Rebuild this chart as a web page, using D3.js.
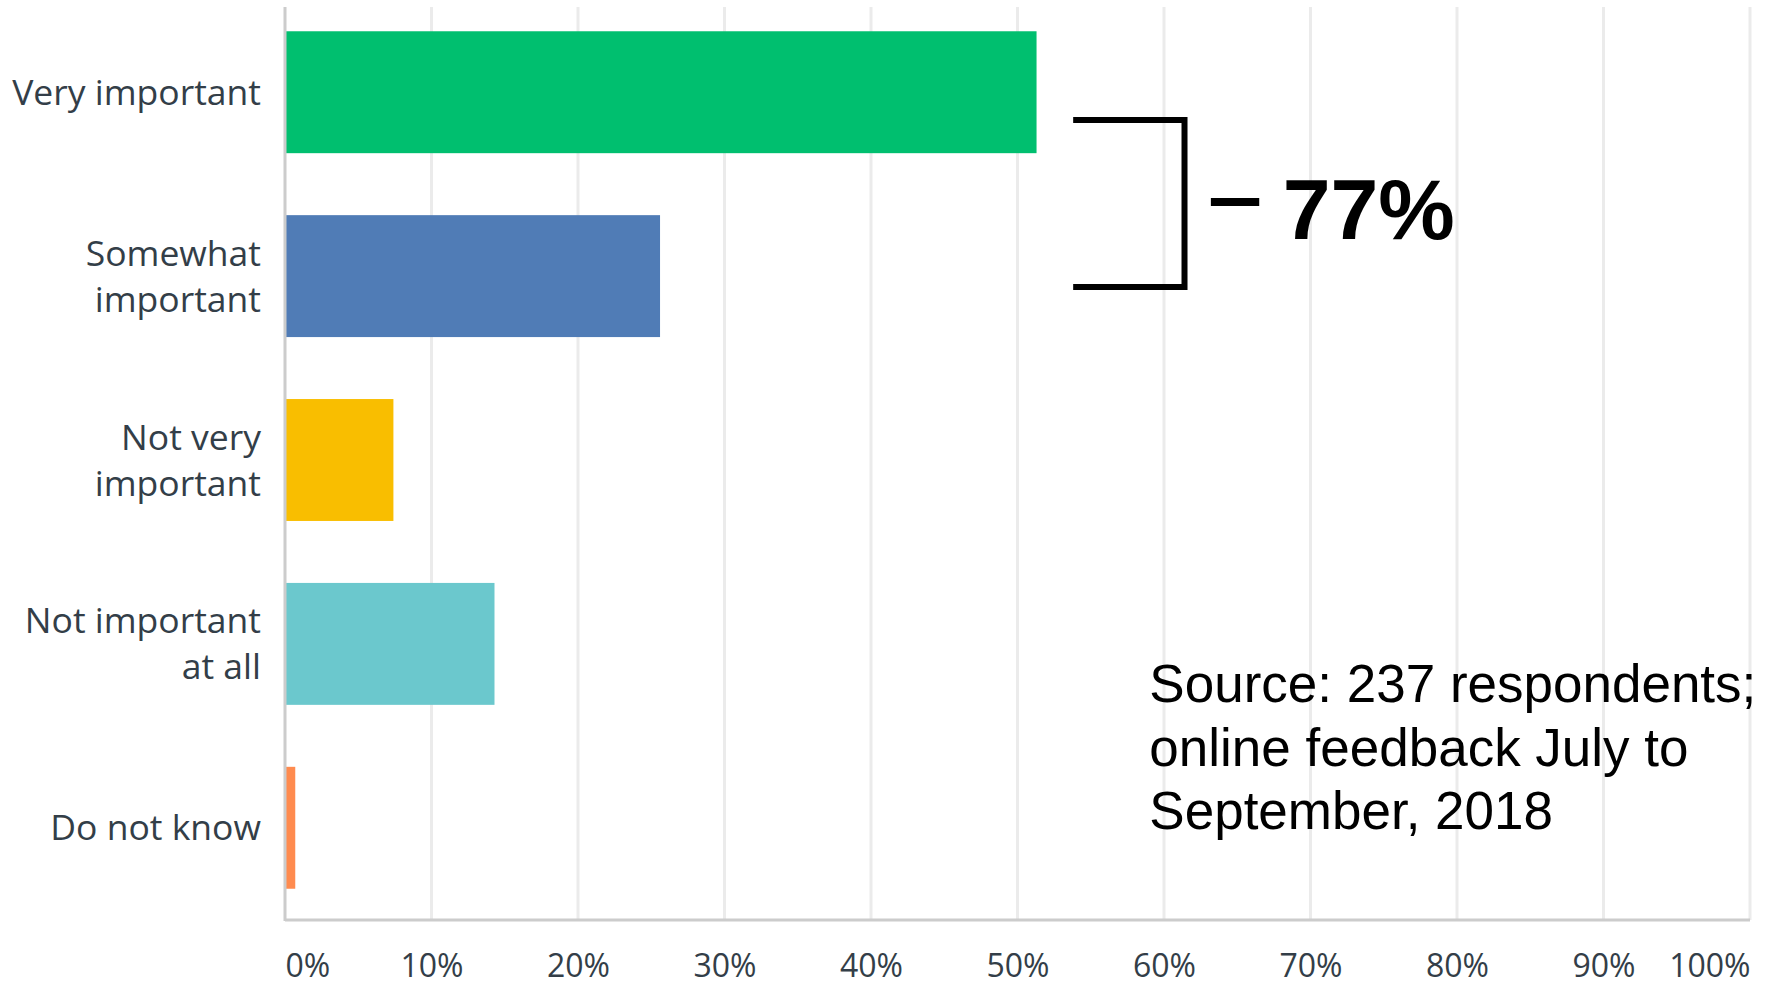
<!DOCTYPE html>
<html lang="en">
    <head>
        <meta charset="UTF-8" />
        <title>Importance</title>
        <style>
            body {
                margin: 0;
                padding: 0;
                background-color: #ffffff;
            }
            svg {
                display: block;
            }
        </style>
    </head>
    <body>
        <div id="chart"></div>
        <script src="https://d3js.org/d3.v7.min.js"></script>
        <script>
            const categories = ['Very important', 'Somewhat important', 'Not very important', 'Not important at all', 'Do not know'];
            const labelLines = [['Very important'], ['Somewhat', 'important'], ['Not very', 'important'], ['Not important', 'at all'], ['Do not know']];
            const values = [51.3, 25.6, 7.4, 14.3, 0.7];
            const barColors = ['#00bf6f', '#507cb6', '#f9be00', '#6bc8cd', '#ff8b4f'];
            const tickValues = [0, 10, 20, 30, 40, 50, 60, 70, 80, 90, 100];
            const bracketLabel = '77%';
            const sourceLines = ['Source: 237 respondents;', 'online feedback July to', 'September, 2018'];

            const width = 1766;
            const height = 988;
            const svg = d3.select('#chart').append('svg').attr('width', width).attr('height', height);

            const x = d3.scaleLinear().domain([0, 100]).range([285, 1750]);
            const y = d3.scaleBand().domain(categories).range([0, 920]).paddingInner(0.337).paddingOuter(0.17);

            // grid
            svg.append('g')
                .selectAll('line')
                .data(tickValues.slice(1))
                .join('line')
                .attr('x1', (d) => x(d))
                .attr('x2', (d) => x(d))
                .attr('y1', 7)
                .attr('y2', 920)
                .attr('stroke', '#ebebeb')
                .attr('stroke-width', 3);

            // bars
            svg.append('g')
                .selectAll('rect')
                .data(values)
                .join('rect')
                .attr('x', x(0))
                .attr('y', (d, i) => y(categories[i]))
                .attr('width', (d) => x(d) - x(0))
                .attr('height', y.bandwidth())
                .attr('fill', (d, i) => barColors[i]);

            // axis lines
            svg.append('line').attr('x1', x(0)).attr('x2', x(0)).attr('y1', 7).attr('y2', 921).attr('stroke', '#cccccc').attr('stroke-width', 3);
            svg.append('line').attr('x1', x(0)).attr('x2', x(100)).attr('y1', 920).attr('y2', 920).attr('stroke', '#cccccc').attr('stroke-width', 3);

            // x ticks
            const xAxis = svg
                .append('g')
                .attr('transform', 'translate(0, 977)')
                .call(d3.axisBottom(x).tickValues(tickValues).tickSize(0).tickPadding(0).tickFormat((d) => d + '%'));
            xAxis.select('.domain').remove();
            xAxis
                .selectAll('text')
                .attr('y', 0)
                .attr('dy', 0)
                .attr('font-family', 'Open Sans')
                .attr('font-size', 32)
                .attr('fill', '#333e48')
                .attr('text-anchor', (d) => (d === 0 ? 'start' : d === 100 ? 'end' : 'middle'));

            // category labels
            const labels = svg
                .append('g')
                .selectAll('text')
                .data(categories)
                .join('text')
                .attr('font-family', 'Open Sans')
                .attr('font-size', 35.5)
                .attr('fill', '#333e48')
                .attr('text-anchor', 'end');
            labels.each(function (d, i) {
                const lines = labelLines[i];
                const mid = y(d) + y.bandwidth() / 2;
                const first = mid + 12.5 - ((lines.length - 1) * 46) / 2;
                d3.select(this)
                    .selectAll('tspan')
                    .data(lines)
                    .join('tspan')
                    .attr('x', 261)
                    .attr('y', (t, k) => first + k * 46)
                    .text((t) => t);
            });

            // bracket annotation
            const bracket = svg.append('g').attr('stroke', '#000000').attr('fill', 'none').attr('stroke-width', 6);
            const bl = x(53.8);
            const br = x(61.4);
            bracket.append('path').attr('d', `M${bl},120 H${br} V287 H${bl}`);
            svg.append('line').attr('x1', x(63.2)).attr('x2', x(66.5)).attr('y1', 202).attr('y2', 202).attr('stroke', '#000000').attr('stroke-width', 8);
            svg.append('text')
                .attr('x', x(68.1))
                .attr('y', 239)
                .attr('font-family', 'Liberation Sans, Arial, sans-serif')
                .attr('font-weight', 'bold')
                .attr('font-size', 86)
                .attr('fill', '#000000')
                .text(bracketLabel);

            // source note
            svg.append('g')
                .selectAll('text')
                .data(sourceLines)
                .join('text')
                .attr('x', x(59))
                .attr('y', (d, i) => 702 + i * 63.5)
                .attr('font-family', 'Liberation Sans, Arial, sans-serif')
                .attr('font-size', 53)
                .attr('fill', '#000000')
                .text((d) => d);
        </script>
    </body>
</html>
